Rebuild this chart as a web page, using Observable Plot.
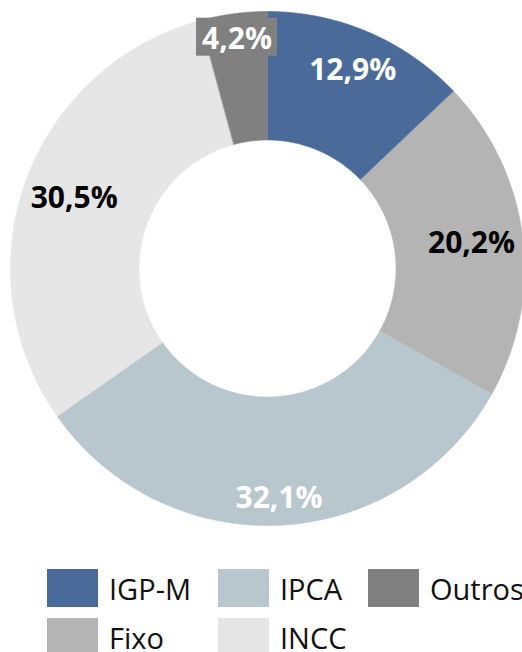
<!DOCTYPE html>
<html>
<head>
<meta charset="utf-8">
<script src="https://cdn.jsdelivr.net/npm/d3@7"></script>
<script src="https://cdn.jsdelivr.net/npm/@observablehq/plot@0.6"></script>
<style>
  html, body { margin: 0; padding: 0; background: #fff; overflow: hidden; width: 522px; height: 652px; }
  #chart { position: relative; width: 522px; height: 652px; }
  #legend {
    position: absolute; left: 47px; top: 569px;
    display: grid; grid-template-rows: 38px 38px; grid-auto-flow: column;
    grid-template-columns: 171px 150px 200px; row-gap: 11px;
    font-family: "Open Sans", sans-serif; font-size: 29px; color: #111;
  }
  .item { display: flex; align-items: center; white-space: nowrap; }
  .sw { width: 51px; height: 38px; margin-right: 11px; flex: none; }
</style>
</head>
<body>
<div id="chart"></div>
<script>
// ---- data ----
const categories = ["IGP-M", "Fixo", "IPCA", "INCC", "Outros"];
const shares = [12.9, 20.2, 32.1, 30.5, 4.2];
const labels = ["12,9%", "20,2%", "32,1%", "30,5%", "4,2%"];
// ---- styles / layout (kept apart from the data) ----
const colors = ["#4A6B9A", "#B4B4B4", "#B8C6CD", "#E6E6E6", "#808080"];
const labelInk = ["#ffffff", "#000000", "#ffffff", "#000000", "#ffffff"];
const labelRadius = [0.84, 0.80, 0.895, 0.80, 0.90];
const innerRatio = 0.5;

// build ring slices in data units (outer radius = 1)
const arcs = d3.pie().sort(null).value(d => d)(shares);
const ring = [];
arcs.forEach((a, i) => {
  const n = 120;
  for (let k = 0; k <= n; k++) {
    const t = a.startAngle + (a.endAngle - a.startAngle) * k / n;
    ring.push({cat: categories[i], x: Math.sin(t), y: Math.cos(t)});
  }
  for (let k = n; k >= 0; k--) {
    const t = a.startAngle + (a.endAngle - a.startAngle) * k / n;
    ring.push({cat: categories[i], x: innerRatio * Math.sin(t), y: innerRatio * Math.cos(t)});
  }
});
const labelData = arcs.map((a, i) => {
  const m = (a.startAngle + a.endAngle) / 2;
  return {cat: categories[i], text: labels[i], ink: labelInk[i],
          x: labelRadius[i] * Math.sin(m), y: labelRadius[i] * Math.cos(m)};
});
// background box behind the small "Outros" label
const R = 257;
const boxData = labelData.filter(d => d.cat === "Outros").map(d => ({
  cat: d.cat,
  x1: d.x - 40.5 / R, x2: d.x + 40.5 / R,
  y1: d.y - 17 / R, y2: d.y + 21 / R
}));

const plot = Plot.plot({
  width: 522, height: 560,
  margin: 0,
  x: {domain: [-1, 1], range: [10, 524], axis: null},
  y: {domain: [-1, 1], range: [525, 11], axis: null},
  color: {domain: categories, range: colors},
  style: {fontFamily: "'Open Sans', sans-serif", overflow: "visible", background: "#fff"},
  marks: [
    Plot.line(ring, {x: "x", y: "y", z: "cat", fill: "cat", stroke: "cat", strokeWidth: 0.6, curve: "linear-closed"}),
    Plot.rect(boxData, {x1: "x1", x2: "x2", y1: "y1", y2: "y2", fill: "cat"}),
    Plot.text(labelData, {x: "x", y: "y", text: "text", fill: "ink", fontSize: 30, fontWeight: "bold"})
  ]
});
const chart = document.getElementById("chart");
chart.appendChild(plot);

// legend (Excel-like, column-major)
const legend = document.createElement("div");
legend.id = "legend";
categories.forEach((c, i) => {
  const item = document.createElement("div");
  item.className = "item";
  const sw = document.createElement("span");
  sw.className = "sw";
  sw.style.background = colors[i];
  const tx = document.createElement("span");
  tx.textContent = c;
  item.appendChild(sw); item.appendChild(tx);
  legend.appendChild(item);
});
chart.appendChild(legend);
</script>
</body>
</html>
